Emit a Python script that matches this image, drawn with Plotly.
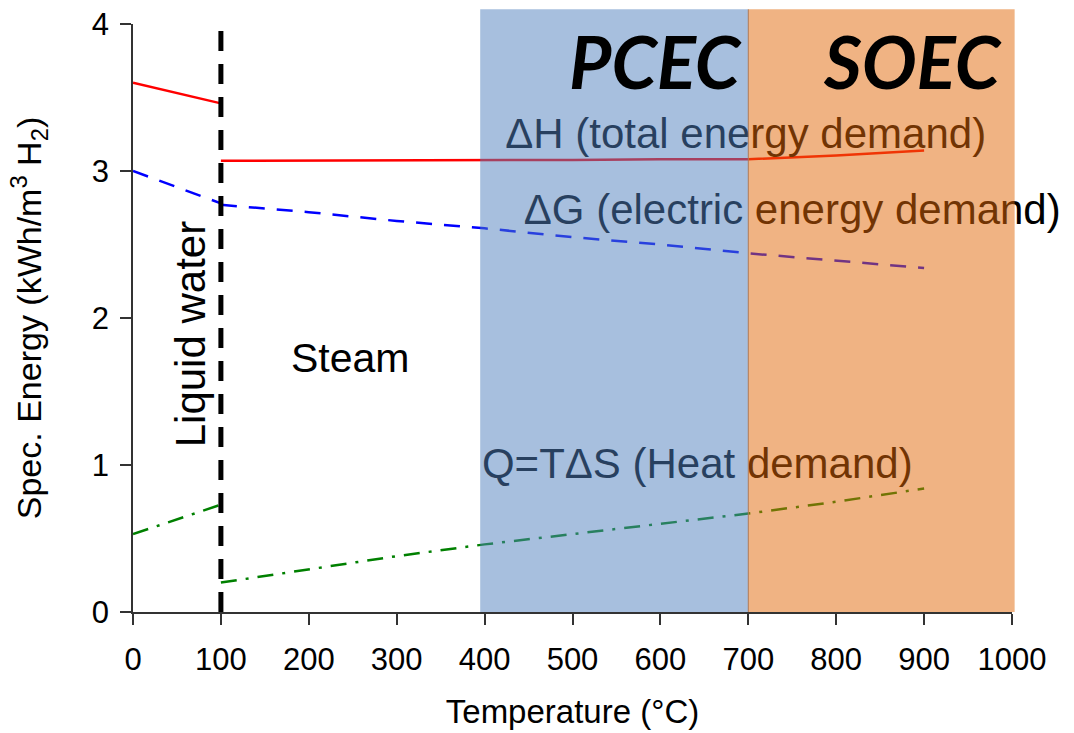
import plotly.graph_objects as go

# Temperature grids (°C) for the liquid and steam branches
t_liquid = [0, 100]
t_steam = [100, 200, 300, 400, 500, 600, 700, 800, 900]

# Specific energy (kWh/m³ H2)
dH_liquid = [3.60, 3.46]
dG_liquid = [3.00, 2.78]
Q_liquid = [0.53, 0.73]

dH_steam = [3.07, 3.07, 3.07, 3.07, 3.075, 3.08, 3.08, 3.105, 3.14]
dG_steam = [2.77, 2.72, 2.66, 2.61, 2.55, 2.50, 2.44, 2.39, 2.34]
Q_steam = [0.20, 0.29, 0.38, 0.46, 0.53, 0.60, 0.67, 0.75, 0.84]

# Boiling point marker
boil_t = 100
boil_top = 3.96

# Operating windows of the two cell types
band_names = ["PCEC", "SOEC"]
band_edges = [(395, 700), (700, 1003)]
band_label_x = [594, 887]
band_colors = ["#4F7FBD", "#E16707"]
band_top = 4.1

x_range = [0, 1000]
y_range = [0, 4]
x_ticks = [0, 100, 200, 300, 400, 500, 600, 700, 800, 900, 1000]
y_ticks = [0, 1, 2, 3, 4]

FONT = "Liberation Sans, Arial, sans-serif"

fig = go.Figure()

def add_line(x, y, color, dash):
    fig.add_trace(go.Scatter(x=x, y=y, mode="lines", showlegend=False, hoverinfo="skip",
                             line=dict(color=color, width=2.5, dash=dash)))

for t, v in ((t_liquid, dH_liquid), (t_steam, dH_steam)):
    add_line(t, v, "#FF0000", "solid")
for t, v in ((t_liquid, dG_liquid), (t_steam, dG_steam)):
    add_line(t, v, "#0000FF", "16px,12px")
for t, v in ((t_liquid, Q_liquid), (t_steam, Q_steam)):
    add_line(t, v, "#008000", "16px,9px,3px,9px")

# Phase boundary between liquid water and steam
fig.add_trace(go.Scatter(x=[boil_t, boil_t], y=[0, boil_top], mode="lines", showlegend=False,
                         hoverinfo="skip", line=dict(color="black", width=5, dash="20px,13px")))

# Curve labels (drawn as text traces so the shaded windows tint them)
curve_labels = [
    ("ΔH (total energy demand)", 697, 3.23),
    ("ΔG (electric energy demand)", 750, 2.71),
    ("Q=TΔS (Heat demand)", 642, 0.98),
]
for txt, lx, ly in curve_labels:
    fig.add_trace(go.Scatter(x=[lx], y=[ly], mode="text", text=[txt], showlegend=False,
                             hoverinfo="skip", cliponaxis=False, textposition="middle center",
                             textfont=dict(family=FONT, size=42, color="black")))

def to_paper_x(v):
    return (v - x_range[0]) / (x_range[1] - x_range[0])

def to_paper_y(v):
    return (v - y_range[0]) / (y_range[1] - y_range[0])

# Semi-transparent operating windows on top of the curves
for (x0, x1), col in zip(band_edges, band_colors):
    fig.add_shape(type="rect", xref="paper", yref="paper",
                  x0=to_paper_x(x0), x1=to_paper_x(x1), y0=0, y1=to_paper_y(band_top),
                  fillcolor=col, opacity=0.5, line=dict(width=0), layer="above")
fig.add_shape(type="line", xref="paper", yref="paper",
              x0=to_paper_x(band_edges[1][0]), x1=to_paper_x(band_edges[1][0]),
              y0=0, y1=to_paper_y(band_top), line=dict(color="#B07A55", width=1), layer="above")

for name, lx in zip(band_names, band_label_x):
    fig.add_annotation(x=lx, y=3.75, text=f"<b><i>{name}</i></b>", showarrow=False,
                       font=dict(family="Lato, Open Sans, sans-serif", size=73, color="black"))

fig.add_annotation(x=248, y=1.73, text="Steam", showarrow=False,
                   font=dict(family=FONT, size=41, color="black"))
fig.add_annotation(x=65, y=1.89, text="Liquid water", showarrow=False, textangle=-90,
                   font=dict(family=FONT, size=42, color="black"))

axis_style = dict(showline=True, linecolor="#333333", linewidth=1.5, ticks="outside",
                  ticklen=11, tickwidth=1.5, tickcolor="#333333", showgrid=False,
                  zeroline=False, automargin=False,
                  tickfont=dict(family=FONT, size=31, color="black"))

fig.update_xaxes(range=x_range, tickvals=x_ticks, ticklabelstandoff=8,
                 title=dict(text="Temperature (°C)", standoff=24,
                            font=dict(family=FONT, size=33, color="black")),
                 **axis_style)
fig.update_yaxes(range=y_range, tickvals=y_ticks, ticklabelstandoff=5,
                 title=dict(text="Spec. Energy (kWh/m<sup>3</sup> H<sub>2</sub>)", standoff=40,
                            font=dict(family=FONT, size=34, color="black")),
                 **axis_style)

fig.update_layout(width=1074, height=733, margin=dict(l=133, r=62, t=24, b=121),
                  plot_bgcolor="white", paper_bgcolor="white")

fig.write_html("out.html")
